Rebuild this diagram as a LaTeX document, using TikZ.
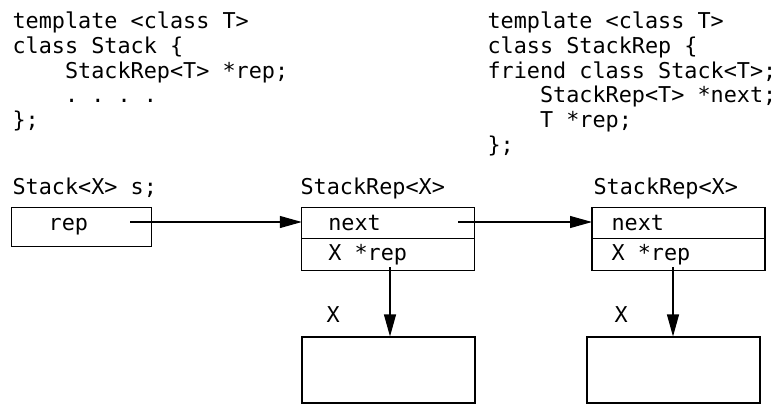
\documentclass[tikz,border=0pt]{standalone}
\usepackage{fontspec}
\setmonofont{DejaVu Sans Mono}
\usetikzlibrary{arrows.meta,positioning}

\newcommand{\ind}{\hphantom{0000}}

\begin{document}
\begin{tikzpicture}[x=1pt,y=-1pt,->,>={Triangle[length=22pt,width=12pt]},line width=1.1pt,
  txt/.style={font=\fontsize{21.8}{24.9}\selectfont\ttfamily,inner sep=0pt},
  code/.style={txt,align=left,anchor=north west},
  cell/.style={draw,minimum width=173pt,minimum height=31.7pt,inner sep=0pt,outer sep=0pt},
  obj/.style={draw,minimum width=173pt,minimum height=66pt,inner sep=0pt}]
\useasboundingbox (0,0) rectangle (784,405);
% class declarations
\node[code] (stackcode) at (12,11) {template <class T>\\
class Stack \{\\
\ind StackRep<T> *rep;\\
\ind . . . .\\
\};};
\node[code] (repcode) at (487,11) {template <class T>\\
class StackRep \{\\
friend class Stack<T>;\\
\ind StackRep<T> *next;\\
\ind T *rep;\\
\};};
% the stack object
\node[txt,anchor=base west] (slbl) at (12,194) {Stack<X> s;};
\node[draw,minimum width=140pt,minimum height=39.5pt,inner sep=0pt] (s) at (81.7,226.8) {};
\node[txt,anchor=west] (srep) at ([xshift=37pt]s.west) {rep};
% first rep
\node[txt,anchor=base west] (lbl1) at (300,194) {StackRep<X>};
\node[cell] (n1) at (388.3,223) {};
\node[cell,below=0pt of n1] (r1) {};
\node[txt,anchor=west] (nt1) at ([xshift=26pt]n1.west) {next};
\node[txt,anchor=west] (rt1) at ([xshift=26pt]r1.west) {X *rep};
% second rep
\node[txt,anchor=base west] (lbl2) at (593,194) {StackRep<X>};
\node[cell] (n2) at (678.5,223) {};
\node[cell,below=0pt of n2] (r2) {};
\node[txt,anchor=west] (nt2) at ([xshift=19pt]n2.west) {next};
\node[txt,anchor=west] (rt2) at ([xshift=19pt]r2.west) {X *rep};
% the X objects
\node[obj] (o1) at (388.5,370) {};
\node[txt,anchor=base west] (x1) at (326,322) {X};
\node[obj] (o2) at (673.5,370) {};
\node[txt,anchor=base west] (x2) at (614,322) {X};
% pointers
\coordinate (sp) at (130,222);
\coordinate (np) at (458,222);
\coordinate (rp1) at (390,267);
\coordinate (rp2) at (673,267);
\draw (sp) -- (sp -| n1.west);
\draw (np) -- (np -| n2.west);
\draw (rp1) -- (rp1 |- o1.north);
\draw (rp2) -- (rp2 |- o2.north);
\end{tikzpicture}
\end{document}
